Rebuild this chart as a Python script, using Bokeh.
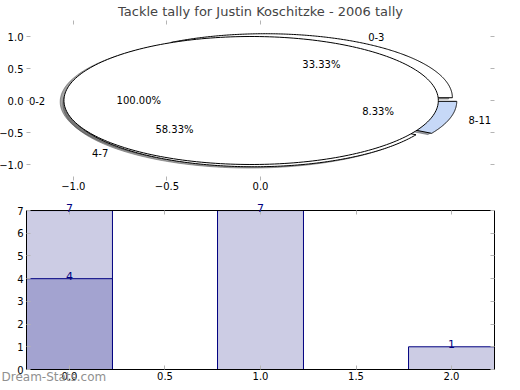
import numpy as np
from bokeh.plotting import figure
from bokeh.models import (LinearAxis, FixedTicker, Range1d, LabelSet, Title,
                          CustomJSTickFormatter, ColumnDataSource)
from bokeh.layouts import column
from bokeh.embed import file_html
from bokeh.resources import INLINE
from bokeh.core.properties import value

# ---------------- data ----------------
title_text = "Tackle tally for Justin Koschitzke - 2006 tally"
pie_labels = ["0-2", "0-3", "4-7", "8-11"]
pie_values = [12, 4, 7, 1]
pie_total = 12
pie_colors = ["#ffffff", "#ffffff", "#ffffff", "#c6d8f7"]
pie_explode = [0.05, 0.05, 0.05, 0.05]
pie_draw_order = [1, 2, 3, 0]
pie_xticks = [-1.0, -0.5, 0.0]
pie_yticks = [-1.0, -0.5, 0.0, 0.5, 1.0]

bar_x = [0, 1, 2]
bar_light = [7, 7, 1]
bar_dark_x = [0]
bar_dark = [4]
bar_xticks = [0.0, 0.5, 1.0, 1.5, 2.0]
bar_yticks = [0, 1, 2, 3, 4, 5, 6, 7]
bar_ylim = (0, 7)
bar_xlim = (-0.225, 2.225)
watermark = "Dream-Stats.com"

FONT = "DejaVu Sans"
TICK_COLOR = "#b4b4b4"
fmt1 = CustomJSTickFormatter(code="return tick.toFixed(1).replace('-', '\\u2212');")
fmt0 = CustomJSTickFormatter(code="return tick.toFixed(0);")
fmt_none = CustomJSTickFormatter(code="return '';")


def style_axis(ax, ticks, fmt, standoff=2, line=None):
    ax.ticker = FixedTicker(ticks=ticks)
    ax.formatter = fmt
    ax.axis_line_color = line
    ax.axis_line_width = 1
    ax.major_tick_in = 4
    ax.major_tick_out = 0
    ax.minor_tick_line_color = None
    ax.major_tick_line_color = TICK_COLOR
    ax.major_label_standoff = standoff
    ax.major_label_text_font = FONT
    ax.major_label_text_font_size = "10px"
    ax.major_label_text_color = "black"


# ---------------- pie ----------------
p1 = figure(width=528, height=196, x_range=Range1d(-1.25, 1.25), y_range=Range1d(-1.25, 1.25),
            output_backend="svg", toolbar_location=None,
            min_border_left=40, min_border_right=20, min_border_top=20, min_border_bottom=16)
p1.outline_line_color = None
p1.grid.visible = False
p1.title.text = title_text
p1.title.align = "center"
p1.title.text_font = FONT
p1.title.text_font_size = "13px"
p1.title.text_font_style = "normal"
p1.title.standoff = 3
style_axis(p1.xaxis[0], pie_xticks, fmt1, standoff=1)
style_axis(p1.yaxis[0], pie_yticks, fmt1, standoff=3)
ax_top = LinearAxis(); style_axis(ax_top, pie_xticks, fmt_none, standoff=0)
ax_right = LinearAxis(); style_axis(ax_right, pie_yticks, fmt_none, standoff=0)
p1.add_layout(ax_top, "above")
p1.add_layout(ax_right, "right")

fracs = np.array(pie_values, dtype=float) / pie_total
wedges = []
theta = 0.0
for i, f in enumerate(fracs):
    t1, t2 = theta, theta + 360.0 * f
    mid = np.deg2rad((t1 + t2) / 2)
    cx, cy = pie_explode[i] * np.cos(mid), pie_explode[i] * np.sin(mid)
    ang = np.deg2rad(np.linspace(t1, t2, 240))
    xs = list(cx + np.cos(ang))
    ys = list(cy + np.sin(ang))
    if f < 0.999999:
        xs = [cx] + xs + [cx]
        ys = [cy] + ys + [cy]
    wedges.append(dict(xs=xs, ys=ys, cx=cx, cy=cy, mid=mid, f=f))
    theta = t2


def shade(c):
    c = c.lstrip("#")
    r, g, b = (int(c[k:k + 2], 16) for k in (0, 2, 4))
    return "#%02x%02x%02x" % (int(r * 0.3), int(g * 0.3), int(b * 0.3))


# shadows below all wedges
for i, w in enumerate(wedges):
    sc = shade(pie_colors[i])
    p1.patch([x - 0.02 for x in w["xs"]], [y - 0.02 for y in w["ys"]],
             fill_color=sc, fill_alpha=0.5, line_color=sc, line_alpha=0.5, line_width=1)
for i in pie_draw_order:
    w = wedges[i]
    p1.patch(w["xs"], w["ys"], fill_color=pie_colors[i], line_color="black", line_width=1)

for i, w in enumerate(wedges):
    lx = w["cx"] + 1.1 * np.cos(w["mid"])
    ly = w["cy"] + 1.1 * np.sin(w["mid"])
    p1.text([lx], [ly], text=[pie_labels[i]], text_align="left" if lx > 0 else "right",
            text_baseline="middle", text_font=value(FONT), text_font_size="10px", text_color="black")
    px = w["cx"] + 0.6 * np.cos(w["mid"])
    py = w["cy"] + 0.6 * np.sin(w["mid"])
    p1.text([px], [py], text=["%.2f%%" % (100 * w["f"])], text_align="center",
            text_baseline="middle", text_font=value(FONT), text_font_size="10px", text_color="black")

# ---------------- bars ----------------
# y view extends a little above the top of the axes box so the value labels are not clipped
p2 = figure(width=528, height=193, x_range=Range1d(*bar_xlim), y_range=Range1d(bar_ylim[0], bar_ylim[1] * 1.057),
            output_backend="svg", toolbar_location=None,
            min_border_left=40, min_border_right=20, min_border_top=5, min_border_bottom=20)
p2.outline_line_color = None
p2.grid.visible = False
style_axis(p2.xaxis[0], bar_xticks, fmt1, standoff=2, line="black")
style_axis(p2.yaxis[0], bar_yticks, fmt0, standoff=3, line="black")
p2.yaxis[0].bounds = bar_ylim
bx_top = LinearAxis(fixed_location=bar_ylim[1])
style_axis(bx_top, bar_xticks, fmt_none, standoff=0, line="black")
by_right = LinearAxis(bounds=bar_ylim)
style_axis(by_right, bar_yticks, fmt_none, standoff=0, line="black")
p2.add_layout(bx_top, "above")
p2.add_layout(by_right, "right")

p2.vbar(x=bar_x, top=bar_light, bottom=0, width=0.45, fill_color="#ccccE4", line_color="#000080", line_width=1)
p2.vbar(x=bar_dark_x, top=bar_dark, bottom=0, width=0.45, fill_color="#a3a3d0", line_color="#000080", line_width=1)

src_light = ColumnDataSource(dict(x=bar_x, y=bar_light, t=[str(v) for v in bar_light]))
src_dark = ColumnDataSource(dict(x=bar_dark_x, y=bar_dark, t=[str(v) for v in bar_dark]))
for src in (src_light, src_dark):
    p2.add_layout(LabelSet(x="x", y="y", text="t", source=src, text_align="center",
                           text_baseline="alphabetic", y_offset=-1,
                           text_font=value(FONT), text_font_size="11px", text_color="#000080"))

wm = Title(text=watermark, align="left", vertical_align="top", offset=-25, standoff=-26,
           text_color="#909090", text_font=FONT, text_font_size="12px", text_font_style="normal")
p2.add_layout(wm, "below")

layout = column(p1, p2, spacing=0, styles={"margin-left": "-14px", "margin-top": "0px"})

with open("out.html", "w") as fh:
    fh.write(file_html(layout, INLINE))
